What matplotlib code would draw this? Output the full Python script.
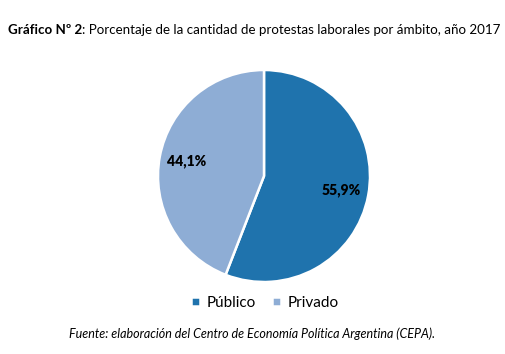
import matplotlib.pyplot as plt

# datos
categorias = ['Público', 'Privado']
valores = [55.9, 44.1]
colores = ['#1f73ad', '#8eadd5']

plt.rcParams['font.family'] = ['Lato', 'DejaVu Sans']

W, H = 505, 354
fig = plt.figure(figsize=(W / 100, H / 100), dpi=100)

# pie: centro ~ (264,176) px, radio ~106 px
cx, cy, r = 264, 176, 106
ax = fig.add_axes([(cx - r) / W, (H - cy - r) / H, 2 * r / W, 2 * r / H])
wedges, _, autotexts = ax.pie(
    valores, colors=colores, startangle=90, counterclock=False,
    autopct=lambda p: f'{p:.1f}%'.replace('.', ','), pctdistance=0.74,
    wedgeprops=dict(edgecolor='white', linewidth=1.8),
    textprops=dict(fontsize=10, fontweight='heavy', color='black'))
ax.set_xlim(-1.0, 1.0)
ax.set_ylim(-1.0, 1.0)
ax.set_aspect('equal')

# titulo (parte en negrita + parte normal)
t1 = fig.text(8 / W, 1 - 30 / H, 'Gráfico Nº 2', fontsize=9.6, fontweight='bold',
              va='center', ha='left')
fig.canvas.draw()
bb = t1.get_window_extent()
fig.text(bb.x1 / W, 1 - 30 / H, ': Porcentaje de la cantidad de protestas laborales por ámbito, año 2017',
         fontsize=9.6, va='center', ha='left')

# leyenda
fig.legend(wedges, categorias, loc='center', bbox_to_anchor=(265 / W, 1 - 303 / H),
           ncol=2, frameon=False, fontsize=11, handlelength=0.55, handleheight=0.55,
           handletextpad=0.45, columnspacing=1.1)

# fuente
fig.text(252 / W, 1 - 334 / H, 'Fuente: elaboración del Centro de Economía Política Argentina (CEPA).',
         fontsize=9, style='italic', ha='center', va='center')

fig.savefig('out.png', dpi=100)
